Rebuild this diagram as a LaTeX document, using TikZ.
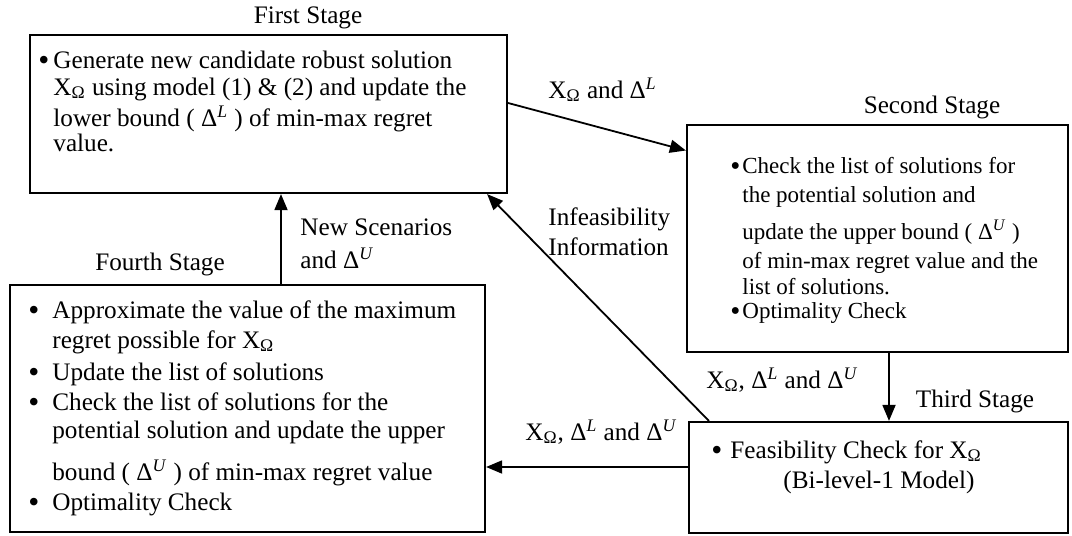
\documentclass[tikz,border=0pt]{standalone}
\usepackage{fontspec}
\setmainfont{Liberation Serif}
\usetikzlibrary{arrows.meta,fit}

\newcommand{\xom}{X\textsubscript{Ω}}
\newcommand{\dlo}{Δ\textsuperscript{\textit{L}}}
\newcommand{\dhi}{Δ\textsuperscript{\textit{U}}}
\newcommand{\blt}{\makebox[0pt][l]{\raisebox{-0.2ex}{\scalebox{1.25}{\textbullet}}}}

\begin{document}
\begin{tikzpicture}[x=0.5pt, y=-0.5pt, every node/.style={inner sep=0pt,
                                  font=\fontsize{12.6}{13}\selectfont},
                    stagebox/.style={draw, line width=1.1pt},
                    arr/.style={line width=0.9pt,
                                -{Triangle[length=8pt, width=6.5pt]}}]

                      \useasboundingbox (0,0) rectangle (1072,536);

                      \node[stagebox, fit={(30,35) (507,193)}] (s1) {};
                      \node[stagebox, fit={(687,125) (1068,352)}] (s2) {};
                      \node[stagebox, fit={(689,422) (1068,533)}] (s3) {};
                      \node[stagebox, fit={(10,285) (485,532)}] (s4) {};

                      \foreach \n/\x/\y/\t in {l1/308/23/First, l2/932/113/Second,
                                               l3/975/407/Third, l4/160/270/Fourth} {
                              \node[anchor=base] (\n) at (\x,\y) {\t{} Stage};
                          }

                      \node[anchor=base west] (t1) at (38,68) {\begin{tabular}[t]{@{}p{7.5pt}@{}l@{}}
                          \blt & Generate new candidate robust solution\\[0.5pt]
                          & \xom{} using model (1) \& (2) and update the\\[1.5pt]
                          & lower bound ( \dlo{} ) of min-max regret\\[-0.5pt]
                          & value.
                      \end{tabular}};

                      \node[anchor=base west, font=\fontsize{11.5}{13}\selectfont] (t2) at (730,173) {\begin{tabular}[t]{@{}p{6pt}@{}l@{}}
                          \blt & Check the list of solutions for\\[1.5pt]
                          & the potential solution and\\[5pt]
                          & update the upper bound ( \dhi{} )\\[1.5pt]
                          & of min-max regret value and the\\
                          & list of solutions.\\[-1pt]
                          \blt & Optimality Check
                      \end{tabular}};

                      \node[anchor=base west] (t3) at (711,458) {\begin{tabular}[t]{@{}p{9.5pt}@{}l@{}}
                          \blt & Feasibility Check for \xom\\[2pt]
                          & \hspace*{26.5pt}(Bi-level-1 Model)
                      \end{tabular}};

                      \node[anchor=base west] (t4) at (28,318) {\begin{tabular}[t]{@{}p{12pt}@{}l@{}}
                          \blt & Approximate the value of the maximum\\[2pt]
                          & regret possible for \xom\\[3pt]
                          \blt & Update the list of solutions\\[2pt]
                          \blt & Check the list of solutions for the\\[1pt]
                          & potential solution and update the upper\\[7pt]
                          & bound ( \dhi{} ) of min-max regret value\\[2pt]
                          \blt & Optimality Check
                      \end{tabular}};

                      \node[anchor=base west] (m1) at (548,98) {\xom{} and\ \dlo};
                      \node[anchor=base west] (m2) at (300,235) {\begin{tabular}[t]{@{}l@{}}
                          New Scenarios\\[2.5pt] and\ \dhi
                      \end{tabular}};
                      \node[anchor=base west] (m3) at (548,225) {\begin{tabular}[t]{@{}l@{}}
                          Infeasibility\\[2pt] Information
                      \end{tabular}};
                      \node[anchor=base west] (m4) at (706,388) {\xom, \dlo{} and\ \dhi};
                      \node[anchor=base west] (m5) at (525,440) {\xom, \dlo{} and\ \dhi};

                      \coordinate (vx) at (281,0);
                      \coordinate (vx2) at (889,0);
                      \coordinate (hy) at (0,467);

                      \draw[arr] ([yshift=5.5pt]s1.east) -- ([yshift=44pt]s2.west);
                      \draw[arr] (s2.south -| vx2) -- (s3.north -| vx2);
                      \draw[arr] ([xshift=10.5pt]s3.north west) -- ([xshift=-10.5pt]s1.south east);
                      \draw[arr] (s3.west |- hy) -- (s4.east |- hy);
                      \draw[arr] (s4.north -| vx) -- (s1.south -| vx);
                  \end{tikzpicture}
\end{document}
